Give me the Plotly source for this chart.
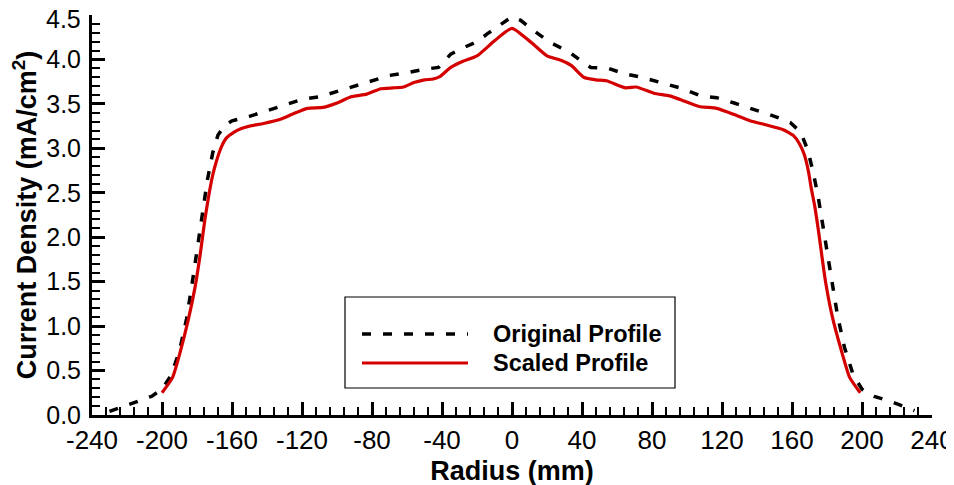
import plotly.graph_objects as go

# Original profile (dashed black)
orig_r = [-230, -218, -206, -200, -195, -190, -186, -183, -180, -177, -174, -171, -168, -164, -160,
          -150, -140, -130, -120, -110, -100, -90, -80, -70, -60, -50, -42, -35, -28, -20, -14, -7, 0,
          5, 12, 22, 33, 41, 45, 55, 64, 74, 85, 96, 108, 117, 127, 138, 150, 159, 165, 169, 172, 175,
          178, 182, 186, 190, 195, 200, 207, 218, 230]
orig_j = [0.04, 0.13, 0.21, 0.29, 0.44, 0.72, 1.08, 1.45, 1.85, 2.25, 2.65, 2.95, 3.15, 3.26, 3.31,
          3.36, 3.42, 3.49, 3.55, 3.58, 3.64, 3.71, 3.76, 3.82, 3.85, 3.89, 3.91, 4.06, 4.13, 4.20, 4.29, 4.39, 4.48,
          4.44, 4.33, 4.19, 4.08, 3.96, 3.91, 3.90, 3.84, 3.80, 3.74, 3.68, 3.59, 3.57, 3.51, 3.44, 3.36, 3.29, 3.18, 2.98, 2.74, 2.45,
          2.09, 1.60, 1.12, 0.76, 0.45, 0.29, 0.21, 0.14, 0.05]

# Scaled profile (solid red)
scaled_r = [-200, -194, -190, -185, -181, -178, -175.5, -173, -171, -169, -166, -163, -159, -155, -150,
            -142, -132, -126, -117, -108, -100, -92, -83, -75, -68, -62, -56, -50, -45, -41, -35, -28, -20, -10, 0,
            11, 20, 28, 34, 41, 48, 54, 65, 71, 81, 90, 96, 107, 117, 127, 136, 146, 155, 161, 164, 167, 169.5,
            171, 173, 175, 179, 183, 188, 193, 199]
scaled_j = [0.25, 0.42, 0.68, 1.07, 1.45, 1.83, 2.20, 2.50, 2.70, 2.85, 3.02, 3.12, 3.18, 3.22, 3.25,
            3.28, 3.33, 3.38, 3.45, 3.46, 3.51, 3.58, 3.61, 3.67, 3.68, 3.69, 3.74, 3.77, 3.78, 3.81, 3.91, 3.98, 4.04, 4.21, 4.35,
            4.19, 4.04, 3.99, 3.93, 3.80, 3.77, 3.76, 3.68, 3.69, 3.62, 3.59, 3.55, 3.47, 3.45, 3.38, 3.31, 3.26, 3.21, 3.14, 3.06, 2.93, 2.73,
            2.55, 2.35, 2.09, 1.52, 1.11, 0.74, 0.42, 0.25]

x_ticks = [-240, -200, -160, -120, -80, -40, 0, 40, 80, 120, 160, 200, 240]
y_ticks = [0.0, 0.5, 1.0, 1.5, 2.0, 2.5, 3.0, 3.5, 4.0, 4.5]
series_names = ["Original Profile", "Scaled Profile"]

FONT = "Liberation Sans, Arial, sans-serif"

fig = go.Figure()
fig.add_trace(go.Scatter(x=orig_r, y=orig_j, mode="lines", name=series_names[0],
                         line=dict(color="black", width=3.5, dash="9px,12px")))
fig.add_trace(go.Scatter(x=scaled_r, y=scaled_j, mode="lines", name=series_names[1],
                         line=dict(color="#d40000", width=3.2, shape="spline", smoothing=0.5)))

W, H = 954, 485
OFF = 8  # page body margin offset
# target plot area in window pixels: x 92..932, y 15..415
PL, PR, PT, PB = 92, 932, 15, 415
L, T = PL - OFF, PT - OFF
R = W - L - (PR - PL)
B = H - T - (PB - PT)

def px2paper(x, y):
    return (x - PL) / (PR - PL), (PB - y) / (PB - PT)

# custom legend (window pixel positions)
x0, y0 = px2paper(345, 297)
x1, y1 = px2paper(675, 388)
fig.add_shape(type="rect", xref="paper", yref="paper", x0=x0, y0=y1, x1=x1, y1=y0,
              line=dict(color="black", width=1.2), fillcolor="white", layer="above")
for yy, tr in [(334, 0), (363, 1)]:
    lx0, ly = px2paper(362, yy)
    lx1, _ = px2paper(468, yy)
    line = fig.data[tr].line
    fig.add_shape(type="line", xref="paper", yref="paper", x0=lx0, x1=lx1, y0=ly, y1=ly,
                  line=dict(color=line.color, width=line.width, dash=line.dash if tr == 0 else "solid"),
                  layer="above")
    tx, _ = px2paper(491, yy)
    fig.add_annotation(xref="paper", yref="paper", x=tx, y=ly, xanchor="left", yanchor="middle",
                       text=series_names[tr], showarrow=False,
                       font=dict(family=FONT, size=23.5, color="black", weight="bold"))

# top y tick label, nudged down so it stays inside the page (as in the reference)
y_labels = [f"{v:.1f}" for v in y_ticks]
fig.add_annotation(xref="paper", yref="y", x=0, y=y_ticks[-1], xanchor="right", yanchor="middle",
                   xshift=-9, yshift=-4, text=y_labels[-1], showarrow=False,
                   font=dict(family=FONT, size=25, color="black"))
y_labels_axis = y_labels[:-1] + [""]

fig.update_layout(
    width=W, height=H, margin=dict(l=L, r=R, t=T, b=B, autoexpand=False),
    plot_bgcolor="white", paper_bgcolor="white", showlegend=False,
    font=dict(family=FONT, color="black"),
)
fig.update_xaxes(range=[-240, 240], tickvals=x_ticks, ticktext=[str(v) for v in x_ticks],
                 automargin=False, ticklabeloverflow="allow",
                 showgrid=False, zeroline=False, showline=True, linecolor="black", linewidth=3,
                 ticks="inside", ticklen=13, tickwidth=3, tickcolor="black",
                 minor=dict(dtick=8, ticks="inside", ticklen=8, tickwidth=1.5, tickcolor="black", showgrid=False),
                 tickfont=dict(size=26, family=FONT),
                 title=dict(text="Radius (mm)", font=dict(size=27, family=FONT, weight="bold"), standoff=7))
fig.update_yaxes(range=[0, 4.5], tickvals=y_ticks, ticktext=y_labels_axis,
                 automargin=False, ticklabelstandoff=3, ticklabeloverflow="allow",
                 showgrid=False, zeroline=False, showline=True, linecolor="black", linewidth=3,
                 ticks="inside", ticklen=13, tickwidth=3, tickcolor="black",
                 minor=dict(dtick=0.1, ticks="inside", ticklen=8, tickwidth=1.5, tickcolor="black", showgrid=False),
                 tickfont=dict(size=25, family=FONT),
                 title=dict(text="Current Density (mA/cm<sup>2</sup>)",
                            font=dict(size=27, family=FONT, weight="bold"), standoff=4))

fig.write_html("out.html")
